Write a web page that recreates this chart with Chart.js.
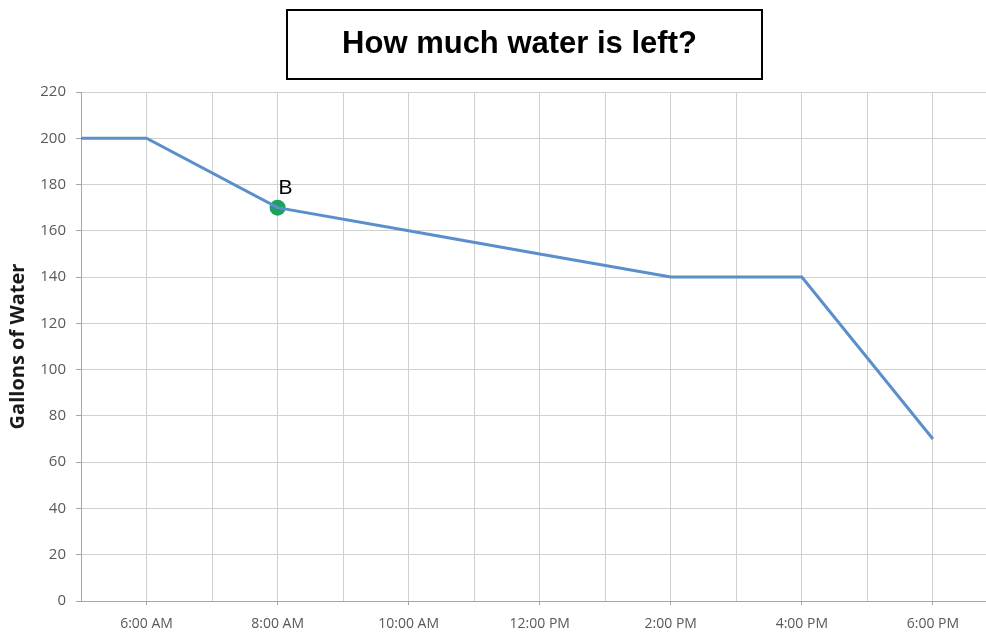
<!DOCTYPE html>
<html>
<head>
<meta charset="utf-8">
<script src="https://cdn.jsdelivr.net/npm/chart.js@4"></script>
<style>
    body { margin: 0; background: #fff; }
    .wrap { position: relative; width: 986px; height: 632px; }
    .title {
        position: absolute; left: 286px; top: 9px; width: 477px; height: 71px;
        box-sizing: border-box; border: 2px solid #000;
        font: bold 31px "Liberation Sans", Arial, sans-serif; color: #000;
        text-align: center; line-height: 64px; padding-right: 10px;
    }
    canvas { position: absolute; left: 0; top: 0; }
</style>
</head>
<body>
<div class="wrap">
    <canvas id="myChart" width="986" height="632"></canvas>
    <div class="title">How much water is left?</div>
</div>
<script>
const hours = [5, 6, 8, 10, 12, 14, 16, 18]
const gallons = [200, 200, 170, 160, 150, 140, 140, 70]
const pointB = { hour: 8, gallons: 170, label: 'B' }
const yTicks = [0, 20, 40, 60, 80, 100, 120, 140, 160, 180, 200, 220]

function hourLabel(h) {
    if (h % 2 != 0 || h < 6) return ''
    let suffix = h < 12 ? 'AM' : 'PM'
    let hh = h > 12 ? h - 12 : h
    return hh + ':00 ' + suffix
}

// draws the "B" over the green point
const labelB = {
    id: 'labelB',
    afterDatasetsDraw(chart) {
        const ctx = chart.ctx
        const x = chart.scales.x.getPixelForValue(pointB.hour)
        const y = chart.scales.y.getPixelForValue(pointB.gallons)
        ctx.save()
        ctx.font = '21px "Liberation Sans", Arial, sans-serif'
        ctx.fillStyle = '#000'
        ctx.textAlign = 'center'
        ctx.textBaseline = 'middle'
        ctx.fillText(pointB.label, x + 8, y - 19)
        ctx.restore()
    }
}

const data = {
    datasets: [
        {
            label: 'Gallons',
            data: hours.map((h, i) => ({ x: h, y: gallons[i] })),
            borderColor: '#5b8fcc',
            borderWidth: 3,
            pointRadius: 0,
            tension: 0,
        },
        {
            label: 'B',
            data: [{ x: pointB.hour, y: pointB.gallons }],
            showLine: false,
            pointRadius: 8,
            pointBackgroundColor: '#1fa05e',
            pointBorderColor: '#1fa05e',
            pointBorderWidth: 0,
        },
    ]
};

const config = {
    type: 'line',
    data: data,
    options: {
        responsive: false,
        animation: false,
        layout: { autoPadding: false, padding: { top: 92, right: 0, left: 0, bottom: 0 } },
        plugins: {
            legend: { display: false },
            tooltip: { enabled: false },
        },
        scales: {
            x: {
                type: 'linear',
                min: 5,
                max: 18.81,
                afterFit: (s) => { s.height = 31 },
                border: { color: '#a6a6a6', width: 1 },
                grid: {
                    color: '#d0d0d0',
                    lineWidth: 1,
                    tickLength: 4,
                    tickColor: (c) => (c.tick && hourLabel(c.tick.value) ? '#a6a6a6' : 'rgba(0,0,0,0)'),
                },
                ticks: {
                    stepSize: 1,
                    includeBounds: false,
                    autoSkip: false,
                    maxRotation: 0,
                    padding: 11,
                    color: '#595959',
                    font: { family: '"Open Sans"', size: 14 },
                    callback: (v) => hourLabel(v),
                },
            },
            y: {
                min: 0,
                max: 220,
                afterFit: (s) => { s.width = 81 },
                afterBuildTicks: (s) => { s.ticks = yTicks.map(v => ({ value: v })) },
                border: { color: '#a6a6a6', width: 1 },
                grid: { color: '#d0d0d0', lineWidth: 1, tickLength: 5, tickColor: '#a6a6a6' },
                ticks: {
                    padding: 10,
                    color: '#595959',
                    font: { family: '"Open Sans"', size: 15 },
                },
                title: {
                    display: true,
                    text: 'Gallons of Water',
                    color: '#1a1a1a',
                    padding: { top: 6 },
                    font: { family: '"Open Sans"', size: 20, weight: 'bold' },
                },
            },
        },
    },
    plugins: [labelB],
};

let myChart = new Chart(document.querySelector('#myChart'), config);
</script>
</body>
</html>
